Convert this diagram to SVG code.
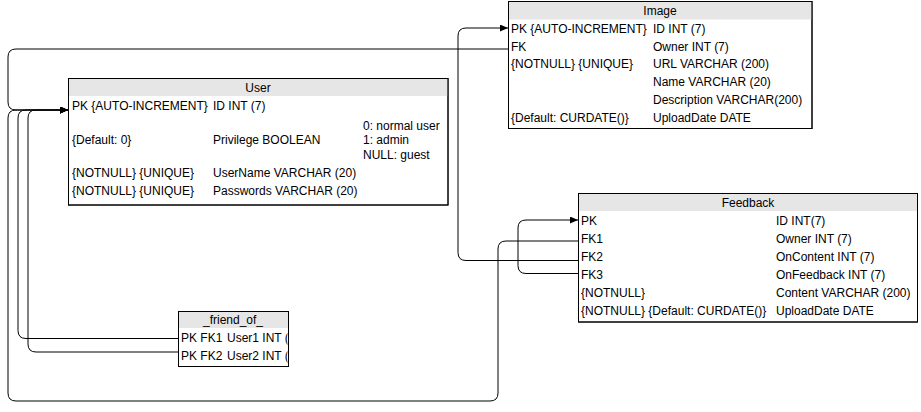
<svg xmlns="http://www.w3.org/2000/svg" width="921" height="412" viewBox="0 0 921 412">
<style>
.box{fill:#fff;stroke:#000;stroke-width:1}
.hdr{fill:#e6e6e6;stroke:none}
.t{font-family:"Liberation Sans",Arial,sans-serif;font-size:12px;fill:#000}
.h{text-anchor:middle}
.c{fill:none;stroke:#000;stroke-width:1}
</style>
<defs>
<marker id="arr" markerUnits="userSpaceOnUse" markerWidth="9" markerHeight="8" refX="8" refY="3.5" orient="auto">
<path d="M0,0 L8,3.5 L0,7 z" fill="#000"/>
</marker>
<clipPath id="fclip"><rect x="178" y="311" width="109.5" height="56"/></clipPath>
</defs>
<rect width="921" height="412" fill="#fff"/>

<g id="connectors">
<path class="c" d="M508,49 H16 Q8,49 8,57 V102 Q8,110 16,110 H68" marker-end="url(#arr)"/>
<path class="c" d="M578,241 H506 Q498,241 498,249 V393 Q498,401 490,401 H16 Q8,401 8,393 V118 Q8,110 16,110 H68" marker-end="url(#arr)"/>
<path class="c" d="M178,338.5 H26 Q18,338.5 18,330.5 V118 Q18,110 26,110 H68" marker-end="url(#arr)"/>
<path class="c" d="M178,352 H36 Q28,352 28,344 V118 Q28,110 36,110 H68" marker-end="url(#arr)"/>
<path class="c" d="M578,260.5 H466 Q458,260.5 458,252.5 V36 Q458,28 466,28 H508" marker-end="url(#arr)"/>
<path class="c" d="M578,273.5 H526 Q518,273.5 518,265.5 V228 Q518,220 526,220 H578" marker-end="url(#arr)"/>
</g>

<g id="image">
<rect class="box" x="508.5" y="1.5" width="303.5" height="127"/>
<rect class="hdr" x="509" y="2" width="302.5" height="17.5"/>
<rect class="c" x="508.5" y="1.5" width="303.5" height="127"/>
<text class="t h" x="660" y="14.5">Image</text>
<text class="t" x="511" y="32.5">PK {AUTO-INCREMENT}</text>
<text class="t" x="653" y="32.5">ID INT (7)</text>
<text class="t" x="511" y="50.5">FK</text>
<text class="t" x="653" y="50.5">Owner INT (7)</text>
<text class="t" x="511" y="68">{NOTNULL} {UNIQUE}</text>
<text class="t" x="653" y="68">URL VARCHAR (200)</text>
<text class="t" x="653" y="86">Name VARCHAR (20)</text>
<text class="t" x="653" y="103.5">Description VARCHAR(200)</text>
<text class="t" x="511" y="121.5">{Default: CURDATE()}</text>
<text class="t" x="653" y="121.5">UploadDate DATE</text>
</g>

<g id="user">
<rect class="box" x="68.5" y="78.5" width="379.5" height="126.5"/>
<rect class="hdr" x="69" y="79" width="378.5" height="17"/>
<rect class="c" x="68.5" y="78.5" width="379.5" height="126.5"/>
<text class="t h" x="258" y="91.5">User</text>
<text class="t" x="72" y="109.5">PK {AUTO-INCREMENT}</text>
<text class="t" x="213" y="109.5">ID INT (7)</text>
<text class="t" x="72" y="143.5">{Default: 0}</text>
<text class="t" x="213" y="143.5">Privilege BOOLEAN</text>
<text class="t" x="363" y="130">0: normal user</text>
<text class="t" x="363" y="144">1: admin</text>
<text class="t" x="363" y="158.5">NULL: guest</text>
<text class="t" x="72" y="177">{NOTNULL} {UNIQUE}</text>
<text class="t" x="213" y="177">UserName VARCHAR (20)</text>
<text class="t" x="72" y="195">{NOTNULL} {UNIQUE}</text>
<text class="t" x="213" y="195">Passwords VARCHAR (20)</text>
</g>

<g id="feedback">
<rect class="box" x="578.5" y="193.5" width="339" height="128.5"/>
<rect class="hdr" x="579" y="194" width="338" height="17"/>
<rect class="c" x="578.5" y="193.5" width="339" height="128.5"/>
<text class="t h" x="748" y="206.5">Feedback</text>
<text class="t" x="581" y="224.5">PK</text>
<text class="t" x="776" y="224.5">ID INT(7)</text>
<text class="t" x="581" y="243">FK1</text>
<text class="t" x="776" y="243">Owner INT (7)</text>
<text class="t" x="581" y="261">FK2</text>
<text class="t" x="776" y="261">OnContent INT (7)</text>
<text class="t" x="581" y="279">FK3</text>
<text class="t" x="776" y="279">OnFeedback INT (7)</text>
<text class="t" x="581" y="297">{NOTNULL}</text>
<text class="t" x="776" y="297">Content VARCHAR (200)</text>
<text class="t" x="581" y="315">{NOTNULL} {Default: CURDATE()}</text>
<text class="t" x="776" y="315">UploadDate DATE</text>
</g>

<g id="friend_of">
<rect class="box" x="178.5" y="311.5" width="110" height="55"/>
<rect class="hdr" x="179" y="312" width="109" height="16"/>
<text class="t h" x="233" y="323.5">_friend_of_</text>
<g clip-path="url(#fclip)">
<text class="t" x="181" y="342">PK FK1</text>
<text class="t" x="227" y="342">User1 INT (7)</text>
<text class="t" x="181" y="359.5">PK FK2</text>
<text class="t" x="227" y="359.5">User2 INT (7)</text>
</g>
<rect class="c" x="178.5" y="311.5" width="110" height="55"/>
</g>
</svg>
